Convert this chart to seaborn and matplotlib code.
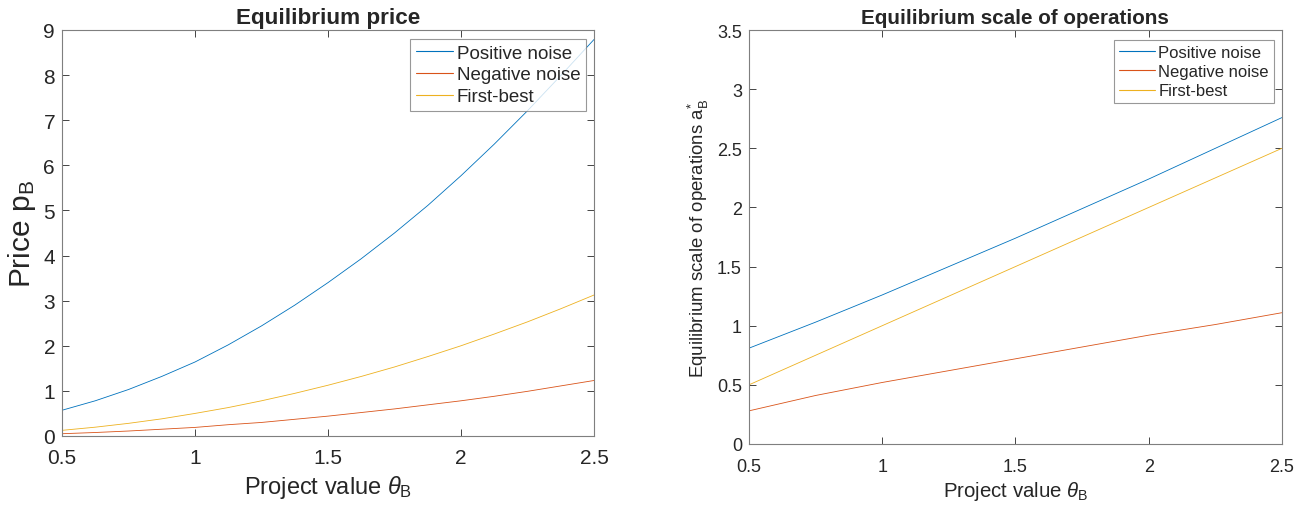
import numpy as np
import pandas as pd
import seaborn as sns
import matplotlib.pyplot as plt

# project value grid (left panel read every 0.125, right panel every 0.25)
theta_price = [0.5, 0.625, 0.75, 0.875, 1.0, 1.125, 1.25, 1.375, 1.5,
               1.625, 1.75, 1.875, 2.0, 2.125, 2.25, 2.375, 2.5]
theta_scale = [0.5, 0.75, 1.0, 1.25, 1.5, 1.75, 2.0, 2.25, 2.5]
series_names = ["Positive noise", "Negative noise", "First-best"]

# equilibrium price (left panel)
price_pos = [0.57, 0.78, 1.03, 1.32, 1.64, 2.02, 2.44, 2.90, 3.40,
             3.93, 4.50, 5.11, 5.77, 6.47, 7.21, 7.99, 8.79]
price_neg = [0.05, 0.077, 0.11, 0.15, 0.19, 0.25, 0.30, 0.37, 0.44,
             0.52, 0.60, 0.69, 0.78, 0.88, 0.99, 1.11, 1.23]
price_fb = [0.125, 0.195, 0.28, 0.38, 0.5, 0.63, 0.78, 0.945, 1.125,
            1.32, 1.53, 1.76, 2.0, 2.26, 2.53, 2.82, 3.125]

# equilibrium scale of operations (right panel)
scale_pos = [0.81, 1.03, 1.26, 1.50, 1.74, 1.99, 2.24, 2.50, 2.76]
scale_neg = [0.28, 0.41, 0.52, 0.62, 0.72, 0.82, 0.92, 1.01, 1.11]
scale_fb = [0.5, 0.75, 1.0, 1.25, 1.5, 1.75, 2.0, 2.25, 2.5]

price_ticks = [0, 1, 2, 3, 4, 5, 6, 7, 8, 9]
scale_ticks = [0, 0.5, 1, 1.5, 2, 2.5, 3, 3.5]
x_ticks = [0.5, 1, 1.5, 2, 2.5]

matlab_colors = ["#0072BD", "#D95319", "#EDB120"]


def long_frame(theta, pos, neg, fb):
    frames = []
    for name, vals in zip(series_names, [pos, neg, fb]):
        frames.append(pd.DataFrame({"theta": theta, "value": vals, "series": name}))
    return pd.concat(frames, ignore_index=True)


def fmt(v):
    return f"{v:g}"


sns.set_style("ticks")
plt.rcParams['font.family'] = ['Liberation Sans', 'DejaVu Sans']
plt.rcParams['mathtext.fontset'] = 'custom'
plt.rcParams['mathtext.rm'] = 'Liberation Sans'
plt.rcParams['mathtext.it'] = 'Liberation Sans:italic'

fig = plt.figure(figsize=(13.16, 5.06), dpi=100)
ax1 = fig.add_axes([0.0471, 0.1364, 0.4043, 0.8024])
ax2 = fig.add_axes([0.5691, 0.1206, 0.4050, 0.8180])


def style_axis(ax, yticks, tick_fs, lab_fs, title, ylabel, title_fs, ylab_fs,
               leg_fs, leg_anchor, handle_len, xpad, lpad):
    ax.set_xlim(0.5, 2.5)
    ax.set_ylim(yticks[0], yticks[-1])
    ax.set_xticks(x_ticks)
    ax.set_xticklabels([fmt(t) for t in x_ticks])
    ax.set_yticks(yticks)
    ax.set_yticklabels([fmt(t) for t in yticks])
    ax.tick_params(direction='in', top=True, right=True, length=5, width=0.6,
                   labelsize=tick_fs, colors='#262626', pad=5)
    ax.tick_params(axis='x', pad=xpad)
    for s in ax.spines.values():
        s.set_visible(True)
        s.set_color('#7f7f7f')
        s.set_linewidth(0.8)
    ax.set_title(title, fontsize=title_fs, fontweight='bold', pad=5)
    ax.set_xlabel(r'Project value $\theta_{\mathrm{B}}$', fontsize=lab_fs,
                  color='#262626', labelpad=lpad)
    ax.set_ylabel(ylabel, fontsize=ylab_fs, color='#262626')
    leg = ax.legend(loc='upper right', bbox_to_anchor=leg_anchor, fontsize=leg_fs,
                    frameon=True, fancybox=False, handlelength=handle_len,
                    handletextpad=0.2, borderpad=0.3, labelspacing=0.25,
                    borderaxespad=0.0)
    leg.get_frame().set_edgecolor('#7f7f7f')
    leg.get_frame().set_linewidth(0.8)
    for line in leg.get_lines():
        line.set_linewidth(0.8)


sns.lineplot(data=long_frame(theta_price, price_pos, price_neg, price_fb),
             x="theta", y="value", hue="series", palette=matlab_colors,
             linewidth=0.6, ax=ax1)
style_axis(ax1, price_ticks, 15, 17, "Equilibrium price", r'Price p$_{\mathrm{B}}$',
           16.2, 21.5, 13.5, (0.985, 0.978), 2.0, 9, 4)

sns.lineplot(data=long_frame(theta_scale, scale_pos, scale_neg, scale_fb),
             x="theta", y="value", hue="series", palette=matlab_colors,
             linewidth=0.6, ax=ax2)
style_axis(ax2, scale_ticks, 13, 14.7, "Equilibrium scale of operations",
           r'Equilibrium scale of operations a$^{*}_{\mathrm{B}}$', 14.9, 13.4,
           12, (0.985, 0.976), 2.15, 10, 3)

fig.savefig("out.png", dpi=100)
